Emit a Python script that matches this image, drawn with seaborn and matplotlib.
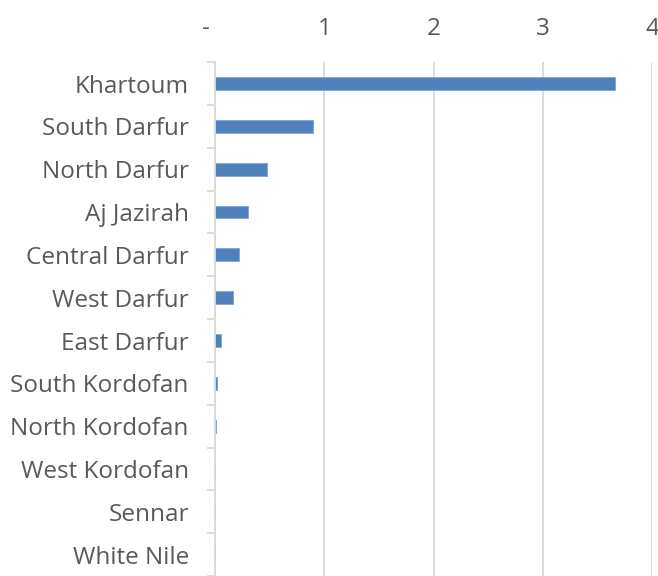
import matplotlib
matplotlib.use("Agg")
import matplotlib.pyplot as plt
import seaborn as sns
import pandas as pd
from matplotlib.ticker import FixedLocator

states = ["Khartoum", "South Darfur", "North Darfur", "Aj Jazirah", "Central Darfur",
          "West Darfur", "East Darfur", "South Kordofan", "North Kordofan",
          "West Kordofan", "Sennar", "White Nile"]
values = [3.66, 0.90, 0.47, 0.30, 0.215, 0.16, 0.05, 0.02, 0.01, 0.0, 0.0, 0.0]
xticks = [0, 1, 2, 3, 4]
xticklabels = ["-   ", "1", "2", "3", "4"]

df = pd.DataFrame({"state": states, "value": values})

sns.set_style("white")
plt.rcParams['font.family'] = ['Open Sans', 'DejaVu Sans']

fig = plt.figure(figsize=(6.58, 5.76), dpi=100)
ax = fig.add_axes([0.327, 0.0, 0.664, 0.892])

sns.barplot(data=df, x="value", y="state", orient="h", color="#4F81BD",
            width=0.3, edgecolor="#7FA3D3", linewidth=0.6, ax=ax, saturation=1)

ax.set_xlim(0, 4)
ax.set_ylim(11.5, -0.5)
ax.set_xticks(xticks)
ax.set_xticklabels(xticklabels)
ax.xaxis.tick_top()
ax.xaxis.set_label_position("top")
ax.set_xlabel("")
ax.set_ylabel("")

ax.grid(axis="x", color="#D9D9D9", linewidth=1.3)
ax.set_axisbelow(True)
for s in ["top", "right", "bottom"]:
    ax.spines[s].set_visible(False)
ax.spines["left"].set_color("#D9D9D9")
ax.spines["left"].set_linewidth(1.3)

ax.tick_params(axis="x", length=0, pad=15, labelsize=17.5, labelcolor="#595959")
ax.tick_params(axis="y", which="major", length=0, pad=19, labelsize=17.5, labelcolor="#595959")
ax.yaxis.set_minor_locator(FixedLocator([i - 0.5 for i in range(13)]))
ax.tick_params(axis="y", which="minor", left=True, length=6, width=1.3, color="#D9D9D9")

fig.savefig("out.png", dpi=100)
